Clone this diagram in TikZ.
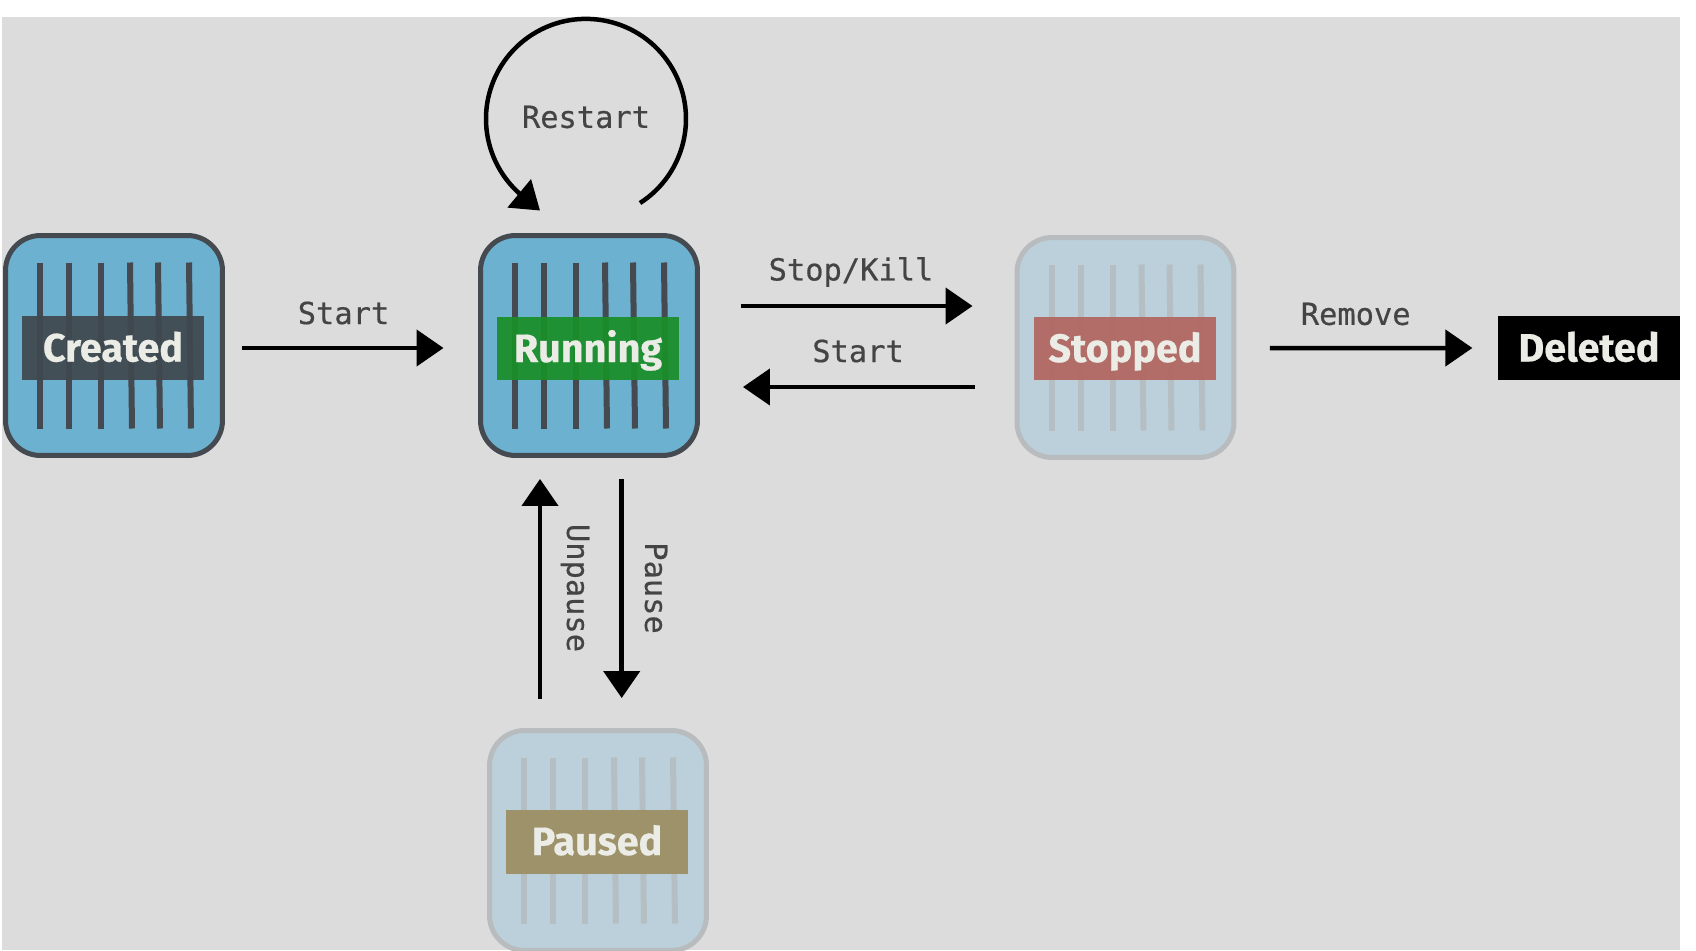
\documentclass[tikz,border=0pt]{standalone}
\usepackage{fontspec}
\setsansfont{Fira Sans}[BoldFeatures={FakeBold=0.5}]
\newfontfamily\monolab[FakeBold=0.4]{DejaVu Sans Mono}
\usetikzlibrary{calc,arrows.meta,bending}
\definecolor{page}{HTML}{DCDCDC}
\definecolor{ink}{HTML}{444444}
\definecolor{cardblue}{HTML}{6CB1CF}
\definecolor{cardline}{HTML}{444A50}
\definecolor{fadeblue}{HTML}{BBD0DA}
\definecolor{fadeline}{HTML}{B8BCBE}
\definecolor{fadebar}{HTML}{B4BEC3}
\definecolor{tagdark}{HTML}{3F484E}
\definecolor{tagrun}{HTML}{1A8E28}
\definecolor{tagstop}{HTML}{B26A66}
\definecolor{tagpause}{HTML}{9E9168}
\definecolor{tagtext}{HTML}{ECECE6}
\tikzset{
  card/.style={rounded corners=0.7cm, line width=0.1cm, minimum width=4.34cm, minimum height=4.4cm, inner sep=0pt},
  live/.style={card, draw=cardline, fill=cardblue},
  fade/.style={card, draw=fadeline, fill=fadeblue},
  livebar/.style={draw=cardline, line width=0.12cm},
  fadebars/.style={draw=fadebar, line width=0.12cm},
  tag/.style={minimum width=3.64cm, minimum height=1.28cm, inner sep=0pt, text=tagtext, text opacity=1,
    text height=0.64cm, text depth=0.1cm, font=\fontsize{22.5}{24}\selectfont\sffamily\bfseries},
  flow/.style={draw=black, line width=0.09cm, -{Triangle[length=0.54cm,width=0.72cm]}},
  lab/.style={text=ink, inner sep=0pt, font=\fontsize{17.3}{20}\selectfont\monolab},
}
\begin{document}
\begin{tikzpicture}[x=0.02cm,y=-0.02cm]
  \path[use as bounding box, fill=white] (0,0) rectangle (1696,950);
  \fill[page] (2,17) rectangle (1680,950);

  \node[live] (created) at (114,345.5) {};
  \node[live] (running) at (589,345.5) {};
  \node[fade] (stopped) at (1125.5,347.5) {};
  \node[fade] (paused) at (598,840.5) {};

  % bars are a little out of true on the right
  \foreach \c/\s in {created/livebar,running/livebar,stopped/fadebars,paused/fadebars}
    \foreach \t/\b in {-74/-74,-45/-45,-13/-13,16/18,44/46,75/77}
      \draw[\s] ($(\c)+(\t,-83)$) -- ($(\c)+(\b,83)$);

  \node[tag,fill=tagdark,fill opacity=0.93] (createdtag) at (113,348) {Created};
  \node[tag,fill=tagrun,fill opacity=0.93] (runningtag) at (588,348.5) {Running};
  \node[tag,fill=tagstop,fill opacity=0.97] (stoppedtag) at (1125,348.5) {Stopped};
  \node[tag,fill=tagpause,fill opacity=0.97] (pausedtag) at (597,841.5) {Paused};
  \node[tag,fill=black] (deleted) at (1589,348) {Deleted};

  \draw[flow] ($(created.east)+(16.7,2.5)$) -- ($(running.west)+(-34.5,2.5)$);
  \draw[flow] ($(running.east)+(41.5,-39.5)$) -- ($(stopped.west)+(-42,-41.5)$);
  \draw[flow] ($(stopped.west)+(-39.6,39.5)$) -- ($(running.east)+(43,41.5)$);
  \draw[flow] ($(stopped.east)+(33.5,0.5)$) -- ($(deleted.west)+(-25.3,0)$);
  \draw[flow] ($(paused.north)+(-58,-29)$) -- ($(running.south)+(-49,21)$);
  \draw[flow] ($(running.south)+(32.7,21)$) -- ($(paused.north)+(23.7,-30)$);
  \draw[flow] ($(running.north)+(51,-30)$) arc[start angle=57.3,end angle=-228,radius=100]
    -- ($(running.north)+(-49,-22.5)$);

  \node[lab] (labstart) at (343.5,313) {Start};
  \node[lab] (labrestart) at (586,117) {Restart};
  \node[lab] (labstop) at (851,272) {Stop/Kill};
  \node[lab] (labback) at (858,351) {Start};
  \node[lab] (labremove) at (1355.7,314) {Remove};
  \node[lab,rotate=-90] (labunpause) at (575,588) {Unpause};
  \node[lab,rotate=-90] (labpause) at (656,588) {Pause};
\end{tikzpicture}
\end{document}
